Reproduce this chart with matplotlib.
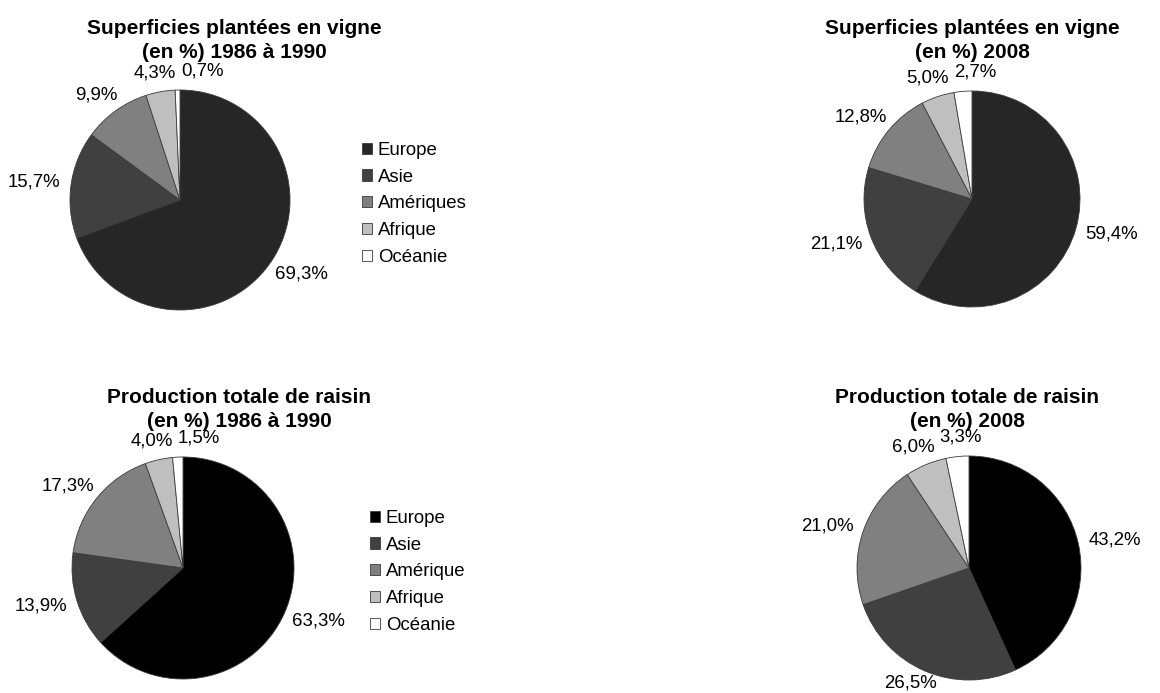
import numpy as np
import matplotlib
matplotlib.use("Agg")
import matplotlib.pyplot as plt

plt.rcParams['font.family'] = ['Liberation Sans', 'DejaVu Sans']

# ---- data ----
regions_top = ["Europe", "Asie", "Amériques", "Afrique", "Océanie"]
regions_bottom = ["Europe", "Asie", "Amérique", "Afrique", "Océanie"]
surf_1986 = [69.3, 15.7, 9.9, 4.3, 0.7]
surf_2008 = [59.4, 21.1, 12.8, 5.0, 2.7]
prod_1986 = [63.3, 13.9, 17.3, 4.0, 1.5]
prod_2008 = [43.2, 26.5, 21.0, 6.0, 3.3]

title_surf_1986 = ["Superficies plantées en vigne", "(en %) 1986 à 1990"]
title_surf_2008 = ["Superficies plantées en vigne", "(en %) 2008"]
title_prod_1986 = ["Production totale de raisin", "(en %) 1986 à 1990"]
title_prod_2008 = ["Production totale de raisin", "(en %) 2008"]

colors_top = ["#262626", "#404040", "#808080", "#bfbfbf", "#ffffff"]
colors_bottom = ["#000000", "#404040", "#808080", "#bfbfbf", "#ffffff"]

W, H = 1160, 693
fig = plt.figure(figsize=(W / 100, H / 100), dpi=100)

LABEL_FS = 13.4
TITLE_FS = 15


def fmt(v):
    return f"{v:.1f}".replace(".", ",") + "%"


def make_pie(cx, cy, r, vals, colors):
    ax = fig.add_axes([(cx - r) / W, 1 - (cy + r) / H, 2 * r / W, 2 * r / H])
    wedges, _ = ax.pie(vals, startangle=90, counterclock=False, colors=colors,
                       radius=1.0,
                       wedgeprops=dict(edgecolor="#3a3a3a", linewidth=0.6))
    ax.set_xlim(-1, 1)
    ax.set_ylim(-1, 1)
    ax.set_aspect("equal")
    ax.axis("off")
    return ax, wedges


def place_labels(ax, vals, r_px, gap_px=11):
    total = float(sum(vals))
    cum = 0.0
    texts, dirs = [], []
    g = gap_px / r_px
    for v in vals:
        mid = cum + v / 2
        cum += v
        th = np.deg2rad(90 - 360 * mid / total)
        ux, uy = np.cos(th), np.sin(th)
        t = ax.text(ux * (1 + g), uy * (1 + g), fmt(v), ha="center", va="center",
                    fontsize=LABEL_FS, color="black", clip_on=False)
        texts.append(t)
        dirs.append((ux, uy))
    fig.canvas.draw()
    ren = fig.canvas.get_renderer()
    for t, (ux, uy) in zip(texts, dirs):
        bb = t.get_window_extent(ren)
        hw = bb.width / 2 / r_px
        hh = bb.height / 2 / r_px
        x, y = t.get_position()
        t.set_position((x + hw * ux, y + hh * uy))
    # simple collision resolution between consecutive labels
    fig.canvas.draw()
    for i in range(1, len(texts)):
        a = texts[i - 1].get_window_extent(ren)
        b = texts[i].get_window_extent(ren)
        if a.overlaps(b):
            x, y = texts[i].get_position()
            if b.x0 >= a.x0:
                shift = (a.x1 - b.x0 + 5) / r_px
                texts[i].set_position((x + shift, y))
            else:
                shift = (b.x1 - a.x0 + 5) / r_px
                texts[i].set_position((x - shift, y))
    # keep labels inside the figure
    fig.canvas.draw()
    for t in texts:
        bb = t.get_window_extent(ren)
        if bb.y0 < 1:
            x, y = t.get_position()
            t.set_position((x, y + (1 - bb.y0) / r_px))
    return texts


def title(x, lines, y_base):
    fig.text(x / W, 1 - y_base[0] / H, lines[0], ha="center", va="baseline",
             fontsize=TITLE_FS, fontweight="bold")
    fig.text(x / W, 1 - y_base[1] / H, lines[1], ha="center", va="baseline",
             fontsize=TITLE_FS, fontweight="bold")


LEG_KW = dict(loc="upper left", frameon=False, fontsize=LABEL_FS, borderpad=0,
              borderaxespad=0, handlelength=0.55, handleheight=0.55,
              handletextpad=0.3, labelspacing=0.52)

# top-left
ax1, w1 = make_pie(180, 200, 110, surf_1986, colors_top)
place_labels(ax1, surf_1986, 110)
title(234, title_surf_1986, (34, 58))
fig.legend(w1, regions_top, bbox_to_anchor=(362 / W, 1 - 142 / H), **LEG_KW)

# top-right
ax2, w2 = make_pie(972, 199, 108, surf_2008, colors_top)
place_labels(ax2, surf_2008, 108)
title(972, title_surf_2008, (34, 58))

# bottom-left
ax3, w3 = make_pie(183, 568, 111, prod_1986, colors_bottom)
place_labels(ax3, prod_1986, 111)
title(239, title_prod_1986, (403, 427))
fig.legend(w3, regions_bottom, bbox_to_anchor=(370 / W, 1 - 510 / H), **LEG_KW)

# bottom-right
ax4, w4 = make_pie(969, 568, 112, prod_2008, colors_bottom)
place_labels(ax4, prod_2008, 112)
title(967, title_prod_2008, (403, 427))

fig.savefig("out.png", dpi=100, facecolor="white")
